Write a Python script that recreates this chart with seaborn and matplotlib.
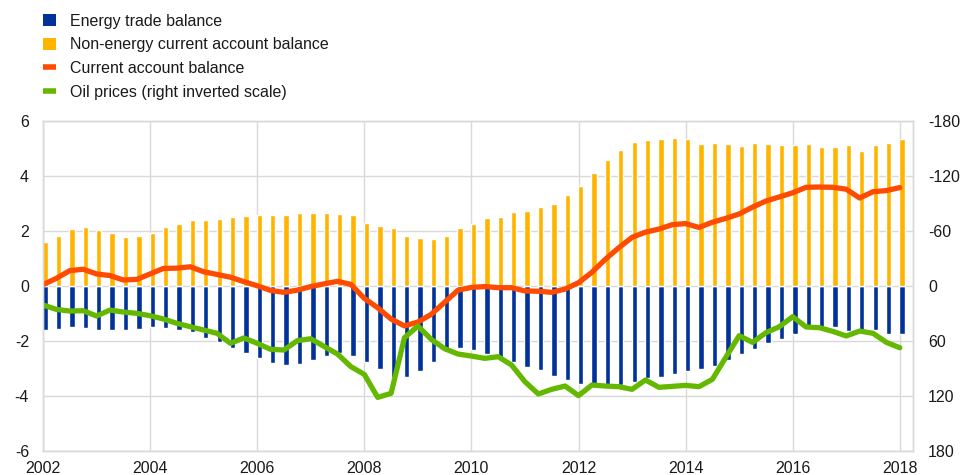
import numpy as np
import pandas as pd
import seaborn as sns
import matplotlib
matplotlib.use("Agg")
import matplotlib.pyplot as plt
from matplotlib.patches import Patch
from matplotlib.lines import Line2D

# quarterly observations, 2002Q1 - 2018Q1
quarters = pd.period_range("2002Q1", "2018Q1", freq="Q")
years = quarters.year + (quarters.quarter - 1) / 4.0

energy_balance = [-1.60, -1.55, -1.50, -1.54, -1.61, -1.59, -1.59, -1.58,
                  -1.50, -1.54, -1.61, -1.68, -1.88, -2.04, -2.24, -2.42,
                  -2.63, -2.81, -2.87, -2.84, -2.69, -2.55, -2.42, -2.56,
                  -2.78, -3.02, -3.31, -3.31, -3.09, -2.78, -2.41, -2.25,
                  -2.33, -2.48, -2.63, -2.78, -2.95, -3.05, -3.26, -3.41,
                  -3.55, -3.58, -3.62, -3.60, -3.48, -3.35, -3.30, -3.19,
                  -3.08, -3.03, -2.91, -2.69, -2.48, -2.30, -2.08, -1.93,
                  -1.75, -1.54, -1.48, -1.48, -1.62, -1.60, -1.60, -1.76,
                  -1.76]

non_energy_balance = [1.61, 1.81, 2.06, 2.13, 2.02, 1.93, 1.79, 1.81,
                      1.93, 2.13, 2.25, 2.40, 2.39, 2.44, 2.51, 2.53,
                      2.59, 2.59, 2.59, 2.67, 2.67, 2.65, 2.62, 2.57,
                      2.28, 2.19, 2.10, 1.83, 1.76, 1.71, 1.81, 2.10,
                      2.25, 2.46, 2.52, 2.68, 2.74, 2.86, 2.98, 3.30,
                      3.64, 4.11, 4.59, 4.95, 5.22, 5.32, 5.35, 5.39,
                      5.35, 5.16, 5.21, 5.18, 5.10, 5.19, 5.18, 5.14,
                      5.12, 5.16, 5.05, 5.05, 5.13, 4.90, 5.14, 5.20,
                      5.33]

current_account = [0.05, 0.28, 0.56, 0.61, 0.44, 0.38, 0.22, 0.24,
                   0.44, 0.64, 0.65, 0.70, 0.52, 0.42, 0.32, 0.16,
                   0.01, -0.16, -0.23, -0.15, -0.02, 0.08, 0.17, 0.06,
                   -0.45, -0.79, -1.20, -1.45, -1.31, -1.03, -0.59, -0.15,
                   -0.05, -0.02, -0.06, -0.06, -0.18, -0.19, -0.23, -0.11,
                   0.12, 0.50, 0.97, 1.39, 1.77, 1.96, 2.07, 2.23,
                   2.27, 2.13, 2.32, 2.46, 2.62, 2.87, 3.09, 3.24,
                   3.39, 3.59, 3.60, 3.59, 3.52, 3.20, 3.43, 3.47,
                   3.58]

oil_prices = [20.7, 25.5, 27.3, 26.9, 32.7, 26.2, 28.4, 29.8,
              32.4, 36.0, 40.7, 44.4, 48.0, 51.6, 62.5, 56.7,
              62.5, 69.1, 69.8, 59.6, 57.5, 66.0, 74.2, 88.0,
              96.4, 121.5, 117.1, 56.4, 43.6, 58.2, 68.4, 74.2,
              76.4, 78.9, 77.1, 86.2, 104.4, 117.8, 112.7, 109.1,
              119.6, 108.0, 109.1, 109.8, 112.7, 102.5, 110.5, 109.5,
              108.4, 109.8, 101.8, 77.8, 54.2, 61.5, 50.9, 44.4,
              33.5, 44.7, 45.5, 49.5, 54.5, 49.1, 51.6, 61.5,
              67.3]

labels = ["Energy trade balance", "Non-energy current account balance",
          "Current account balance", "Oil prices (right inverted scale)"]

BLUE = "#003299"
YELLOW = "#FFB400"
ORANGE = "#FF4B00"
GREEN = "#65B800"
GRID = "#d9d9d9"
TXT = "#1a1a1a"
FS = 11.5

sns.set_style("white")
plt.rcParams["font.family"] = ["Liberation Sans", "DejaVu Sans"]
plt.rcParams["axes.unicode_minus"] = False

fig = plt.figure(figsize=(9.6, 4.75), dpi=100)
ax = fig.add_axes([0.0448, 0.0505, 0.9059, 0.6947])

bar_x = years + 0.04  # bars sit just right of the quarter start
sns.barplot(x=bar_x, y=energy_balance, native_scale=True, width=0.4,
            color=BLUE, saturation=1, errorbar=None, ax=ax)
sns.barplot(x=bar_x, y=non_energy_balance, native_scale=True, width=0.4,
            color=YELLOW, saturation=1, errorbar=None, ax=ax)
sns.lineplot(x=years, y=current_account, color=ORANGE, linewidth=3.8,
             ax=ax, zorder=5)

ax.set_xlim(2002, 2018.24)
ax.set_ylim(-6, 6)
ax.set_xticks(range(2002, 2019, 2))
ax.set_yticks(range(-6, 7, 2))
ax.grid(True, color=GRID, linewidth=1)
ax.set_axisbelow(True)
ax.tick_params(axis="x", length=0, pad=7, labelsize=FS, labelcolor=TXT)
ax.tick_params(axis="y", length=0, pad=10, labelsize=FS, labelcolor=TXT)
ax.set_xlabel("")
ax.set_ylabel("")
for s in ax.spines.values():
    s.set_color(GRID)
    s.set_linewidth(1)

ax2 = ax.twinx()
sns.lineplot(x=years, y=oil_prices, color=GREEN, linewidth=3.8, ax=ax2)
ax2.set_ylim(180, -180)
ax2.set_yticks(range(-180, 181, 60))
ax2.tick_params(axis="y", length=0, pad=11, labelsize=FS, labelcolor=TXT)
ax2.set_ylabel("")
ax2.grid(False)
for s in ax2.spines.values():
    s.set_color(GRID)
    s.set_linewidth(1)

handles = [Patch(facecolor=BLUE, edgecolor="none"),
           Patch(facecolor=YELLOW, edgecolor="none"),
           Line2D([0], [0], color=ORANGE, linewidth=4, solid_capstyle="butt"),
           Line2D([0], [0], color=GREEN, linewidth=4, solid_capstyle="butt")]
fig.legend(handles, labels, loc="upper left", bbox_to_anchor=(0.033, 0.995),
           frameon=False, fontsize=FS, handlelength=0.85, handleheight=0.85,
           handletextpad=0.85, labelspacing=0.56, borderaxespad=0.3,
           labelcolor=TXT)

fig.savefig("out.png", dpi=100)
